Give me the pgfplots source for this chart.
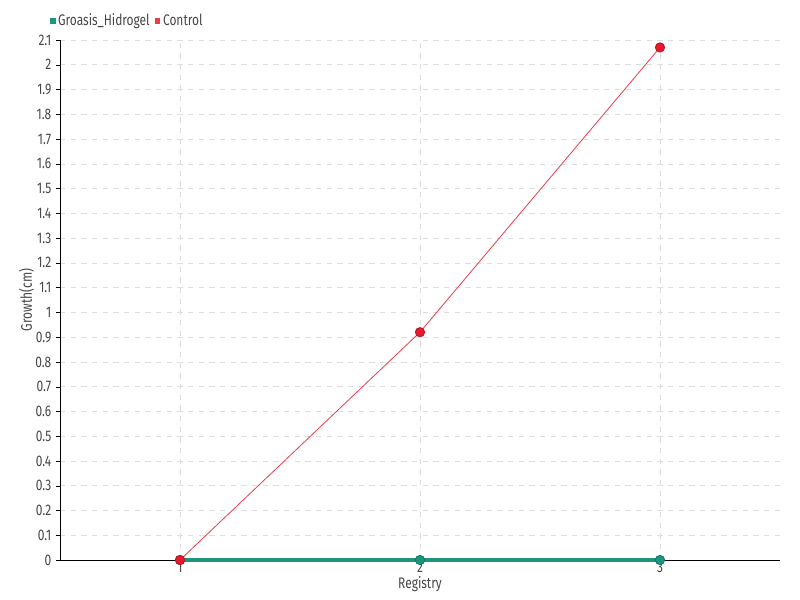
\documentclass[border=0pt]{standalone}
\usepackage{fontspec}
\setmainfont{Fira Sans}[FakeStretch=0.78]
\usepackage{pgfplots}
\pgfplotsset{compat=1.18}
\definecolor{teal1}{RGB}{27,150,125}
\definecolor{red1}{RGB}{232,25,44}
\definecolor{txt}{RGB}{70,70,70}
\begin{document}
\begin{tikzpicture}
\useasboundingbox (-45pt,-30pt) rectangle (555pt,420pt);
\begin{axis}[
  at={(0,0)}, anchor=south west,
  scale only axis, width=540pt, height=390pt,
  xmin=0.5, xmax=3.5, ymin=0, ymax=2.1,
  xtick={1,2,3}, ytick={0,0.1,0.2,0.3,0.4,0.5,0.6,0.7,0.8,0.9,1,1.1,1.2,1.3,1.4,1.5,1.6,1.7,1.8,1.9,2,2.1},
  yticklabels={0,0.1,0.2,0.3,0.4,0.5,0.6,0.7,0.8,0.9,1,1.1,1.2,1.3,1.4,1.5,1.6,1.7,1.8,1.9,2,2.1},
  axis x line=bottom, axis y line=left,
  axis line style={black, -},
  tick align=outside, major tick length=3pt,
  tick style={black},
  grid=major, major grid style={dashed, color=black!13, dash pattern=on 4pt off 4pt},
  /pgf/number format/assume math mode=true,
  ticklabel style={font=\fontsize{11.5}{13}\selectfont, text=txt},
  xticklabel style={yshift=5pt},
  xlabel={Registry}, ylabel={Growth(cm)},
  label style={font=\fontsize{11.5}{13}\selectfont, text=txt},
  xlabel style={yshift=4pt},
  ylabel style={yshift=-6pt},
  legend style={at={(-0.014,1.0365)}, anchor=west, draw=none, fill=none,
    font=\fontsize{11.5}{13}\selectfont, text=txt, legend columns=-1,
    /tikz/every even column/.append style={column sep=2pt}, inner sep=0pt},
  legend image code/.code={\fill[#1, draw=none] (0pt,-2pt) rectangle (4pt,2pt);},
  clip=false,
]
\addplot[color=teal1, line width=2.4pt, mark=*, mark size=3.5pt, mark options={fill=teal1, draw=teal1!80!black, line width=0.6pt}]
  coordinates {(1,0) (2,0) (3,0)};
\addlegendentry{Groasis\_Hidrogel}
\addplot[color=red1!85, line width=0.6pt, mark=*, mark size=3.5pt, mark options={fill=red1, draw=red1!80!black, line width=0.6pt}]
  coordinates {(1,0) (2,0.92) (3,2.07)};
\addlegendentry{Control}
\end{axis}
\end{tikzpicture}
\end{document}
